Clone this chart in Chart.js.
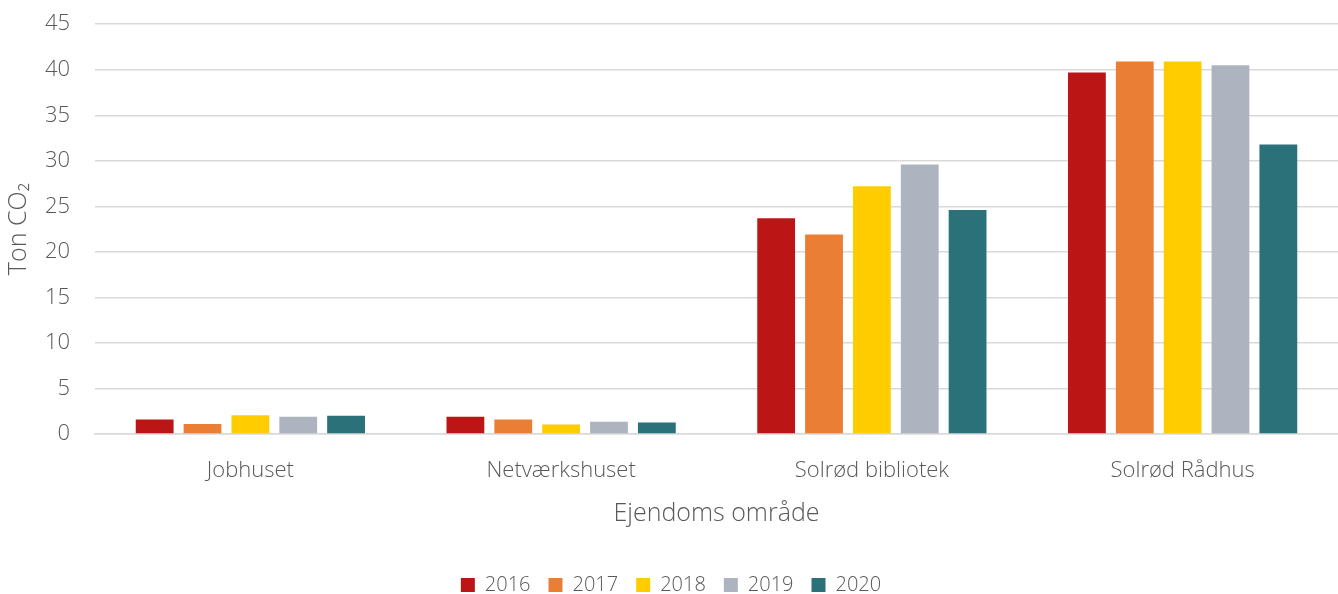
<!DOCTYPE html>
<html>
<head>
<meta charset="utf-8">
<script src="https://cdn.jsdelivr.net/npm/chart.js@4"></script>
<style>
  html, body { margin: 0; padding: 0; background: #fff; overflow: hidden; }
  #frame { width: 1338px; height: 594px; position: relative; overflow: hidden; }
  #wrap { width: 1338px; height: 619px; position: absolute; left: 0; top: -14px; }
</style>
</head>
<body>
<div id="frame"><div id="wrap"><canvas id="chart"></canvas></div></div>
<script>
const categories = ["Jobhuset", "Netværkshuset", "Solrød bibliotek", "Solrød Rådhus"];
const years = ["2016", "2017", "2018", "2019", "2020"];
const colors = ["#BC1515", "#E97E34", "#FFCC00", "#ADB4BF", "#2A7179"];
const values2016 = [1.6, 1.9, 23.7, 39.7];
const values2017 = [1.1, 1.6, 21.9, 40.9];
const values2018 = [2.05, 1.05, 27.2, 40.9];
const values2019 = [1.9, 1.35, 29.6, 40.5];
const values2020 = [2.0, 1.25, 24.6, 31.8];
const seriesValues = [values2016, values2017, values2018, values2019, values2020];

const textColor = "#595959";
const fontFamily = "'Open Sans', 'Noto Sans', sans-serif";

new Chart(document.getElementById("chart").getContext("2d"), {
  type: "bar",
  data: {
    labels: categories,
    datasets: years.map((y, i) => ({
      label: y,
      data: seriesValues[i],
      backgroundColor: colors[i],
      barPercentage: 0.79,
      categoryPercentage: 0.77,
    })),
  },
  options: {
    responsive: true,
    maintainAspectRatio: false,
    animation: false,
    layout: { padding: { left: 4, right: 0, top: 0, bottom: 0 } },
    plugins: {
      legend: {
        position: "bottom",
        labels: {
          color: textColor,
          font: { family: fontFamily, size: 20, weight: 300 },
          boxWidth: 14,
          boxHeight: 14,
          padding: 18,
        },
      },
      tooltip: { enabled: false },
    },
    scales: {
      x: {
        grid: { display: false, drawTicks: false },
        border: { display: true, color: "#d9d9d9", width: 1.5 },
        ticks: { color: textColor, font: { family: fontFamily, size: 22, weight: 300 }, padding: 24 },
        title: {
          display: true,
          text: "Ejendoms område",
          color: textColor,
          font: { family: fontFamily, size: 25, weight: 300 },
          padding: { top: 0, bottom: 28 },
        },
        afterFit: (scale) => { scale.height = 123; },
      },
      y: {
        min: 0,
        max: 45,
        ticks: { stepSize: 5, color: textColor, font: { family: fontFamily, size: 22, weight: 300 }, padding: 25 },
        grid: { color: "#d9d9d9", lineWidth: 1.5, drawTicks: false },
        border: { display: false },
        title: {
          display: true,
          text: "Ton CO₂",
          color: textColor,
          font: { family: fontFamily, size: 25, weight: 300 },
          padding: { top: 0, bottom: 0 },
        },
        afterFit: (scale) => { scale.width = 91; },
      },
    },
  },
});
</script>
</body>
</html>
